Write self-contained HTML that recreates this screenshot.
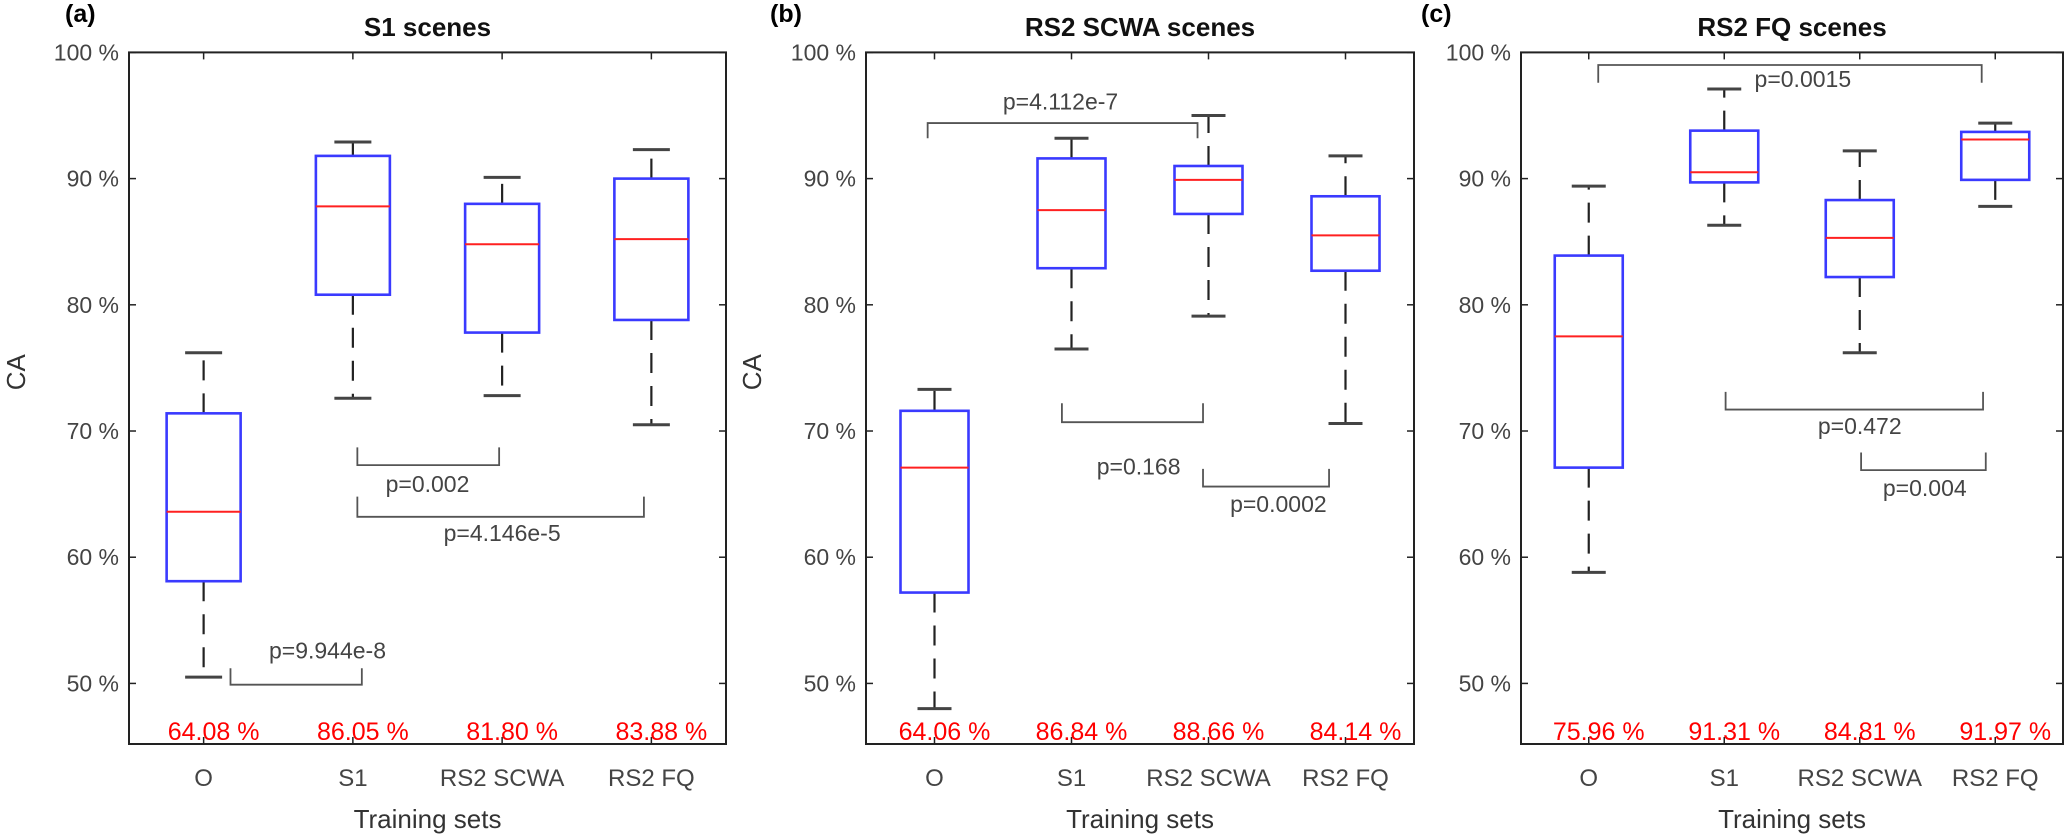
<!DOCTYPE html>
<html><head><meta charset="utf-8">
<style>
html,body{margin:0;padding:0;background:#fff;}
svg{display:block;font-family:"Liberation Sans",Arial,sans-serif;}
</style></head>
<body>
<svg id="chart" width="2067" height="838" viewBox="0 0 2067 838" xmlns="http://www.w3.org/2000/svg"></svg>
<script>
// ---- data ----
const categories = ["O","S1","RS2  SCWA","RS2 FQ"];
const yTicks = [50,60,70,80,90,100];
const panelTitles = ["S1 scenes","RS2 SCWA scenes","RS2 FQ scenes"];
const panelLetters = ["(a)","(b)","(c)"];
// [whiskerLow, q1, median, q3, whiskerHigh]
const boxesA = [[50.5,58.1,63.6,71.4,76.2],[72.6,80.8,87.8,91.8,92.9],[72.8,77.8,84.8,88.0,90.1],[70.5,78.8,85.2,90.0,92.3]];
const boxesB = [[48.0,57.2,67.1,71.6,73.3],[76.5,82.9,87.5,91.6,93.2],[79.1,87.2,89.9,91.0,95.0],[70.6,82.7,85.5,88.6,91.8]];
const boxesC = [[58.8,67.1,77.5,83.9,89.4],[86.3,89.7,90.5,93.8,97.1],[76.2,82.2,85.3,88.3,92.2],[87.8,89.9,93.1,93.7,94.4]];
const meansA = ["64.08 %","86.05 %","81.80 %","83.88 %"];
const meansB = ["64.06 %","86.84 %","88.66 %","84.14 %"];
const meansC = ["75.96 %","91.31 %","84.81 %","91.97 %"];
// brackets: [catStart, catEnd, legValue, lineValue, label, labelCat, labelValue]
const bracketsA = [[1.03,1.98,68.7,67.3,"p=0.002",1.5,65.8],[1.03,2.95,64.8,63.2,"p=4.146e-5",2.0,61.9],[0.18,1.06,51.2,49.9,"p=9.944e-8",0.83,52.6]];
const bracketsB = [[-0.05,1.92,93.2,94.4,"p=4.112e-7",0.92,96.1],[0.93,1.96,72.2,70.7,"p=0.168",1.49,67.2],[1.96,2.88,67.0,65.6,"p=0.0002",2.51,64.2]];
const bracketsC = [[0.07,2.90,97.6,99.0,"p=0.0015",1.58,97.9],[1.01,2.91,73.1,71.7,"p=0.472",2.00,70.4],[2.01,2.93,68.3,66.9,"p=0.004",2.48,65.5]];

const panels = [
  {left:129,right:726,boxes:boxesA,means:meansA,brackets:bracketsA,ca:16,letterX:65,halfBox:37},
  {left:866,right:1414,boxes:boxesB,means:meansB,brackets:bracketsB,ca:752,letterX:770,halfBox:34},
  {left:1521,right:2063,boxes:boxesC,means:meansC,brackets:bracketsC,ca:null,letterX:1421,halfBox:34}
];
const TOP=52.4,BOTTOM=744,YMIN=45.2,YMAX=100;
const svg=document.getElementById('chart');
const NS="http://www.w3.org/2000/svg";
function mk(tag,attrs,parent){const e=document.createElementNS(NS,tag);for(const k in attrs)e.setAttribute(k,attrs[k]);(parent||svg).appendChild(e);return e;}
function yS(v){return BOTTOM-(v-YMIN)/(YMAX-YMIN)*(BOTTOM-TOP);}

panels.forEach((p,pi)=>{
  const g=mk('g',{});
  
  
  const sp=(p.right-p.left)/4;
  const xS=c=>p.left+sp*(c+0.5);
  // title & letter
  const t=mk('text',{x:(p.left+p.right)/2,y:36,'text-anchor':'middle','font-size':26,'font-weight':'bold',fill:'#111'},g);
  t.textContent=panelTitles[pi];
  
  
  const l=mk('text',{x:p.letterX,y:22,'font-size':25,'font-weight':'bold',fill:'#000'},g);
  l.textContent=panelLetters[pi];
  
  
  // y ticks
  yTicks.forEach(v=>{
    const y=yS(v);
    mk('line',{x1:p.left,x2:p.left+7,y1:y,y2:y,stroke:'#222','stroke-width':1.5},g);
    mk('line',{x1:p.right,x2:p.right-7,y1:y,y2:y,stroke:'#222','stroke-width':1.5},g);
    const tl=mk('text',{x:p.left-10,y:y+8,'text-anchor':'end','font-size':23,fill:'#444'},g);
    tl.textContent=v+' %';
    
    
  });
  // category ticks & labels
  categories.forEach((c,i)=>{
    const x=xS(i);
    mk('line',{x1:x,x2:x,y1:BOTTOM,y2:BOTTOM-7,stroke:'#222','stroke-width':1.5},g);
    mk('line',{x1:x,x2:x,y1:TOP,y2:TOP+7,stroke:'#222','stroke-width':1.5},g);
    const cl=mk('text',{x:x,y:786,'text-anchor':'middle','font-size':24,fill:'#444','xml:space':'preserve'},g);
    cl.textContent=c;
    
    
  });
  // boxes
  p.boxes.forEach((b,i)=>{
    const x=xS(i),hw=p.halfBox,cw=hw*0.5;
    const bg=mk('g',{},g);
    
    
    mk('line',{x1:x,x2:x,y1:yS(b[3]),y2:yS(b[4]),stroke:'#222','stroke-width':2.2,'stroke-dasharray':'20 13'},bg);
    mk('line',{x1:x,x2:x,y1:yS(b[1]),y2:yS(b[0]),stroke:'#222','stroke-width':2.2,'stroke-dasharray':'20 13'},bg);
    mk('line',{x1:x-cw,x2:x+cw,y1:yS(b[4]),y2:yS(b[4]),stroke:'#444','stroke-width':3},bg);
    mk('line',{x1:x-cw,x2:x+cw,y1:yS(b[0]),y2:yS(b[0]),stroke:'#444','stroke-width':3},bg);
    mk('rect',{x:x-hw,y:yS(b[3]),width:2*hw,height:yS(b[1])-yS(b[3]),fill:'none',stroke:'#3a3aff','stroke-width':2.6},bg);
    mk('line',{x1:x-hw,x2:x+hw,y1:yS(b[2]),y2:yS(b[2]),stroke:'#ff2020','stroke-width':2},bg);
    const m=mk('text',{x:x+10,y:740,'text-anchor':'middle','font-size':25,fill:'#ff0000'},g);
    m.textContent=p.means[i];
    
    
  });
  // brackets
  p.brackets.forEach(br=>{
    const x1=xS(br[0]),x2=xS(br[1]),yl=yS(br[2]),yh=yS(br[3]);
    const pa=mk('path',{d:`M${x1},${yl} L${x1},${yh} L${x2},${yh} L${x2},${yl}`,fill:'none',stroke:'#555','stroke-width':1.8},g);
    
    
    const bt=mk('text',{x:xS(br[5]),y:yS(br[6])+8,'text-anchor':'middle','font-size':23,fill:'#444'},g);
    bt.textContent=br[4];
    
    
  });
  // frame
  const fr=mk('rect',{x:p.left,y:TOP,width:p.right-p.left,height:BOTTOM-TOP,fill:'none',stroke:'#222','stroke-width':2},g);
  
  
  // axis titles
  const xt=mk('text',{x:(p.left+p.right)/2,y:828,'text-anchor':'middle','font-size':26,fill:'#333'},g);
  xt.textContent='Training sets';
  
  
  if(p.ca!==null){
    const ya=mk('text',{x:p.ca,y:(TOP+BOTTOM)/2-26,'text-anchor':'middle','font-size':26,fill:'#333',transform:`rotate(-90 ${p.ca} ${(TOP+BOTTOM)/2-26})`,'dominant-baseline':'central'},g);
    ya.textContent='CA';
    
    
  }
});
</script>
</body></html>
